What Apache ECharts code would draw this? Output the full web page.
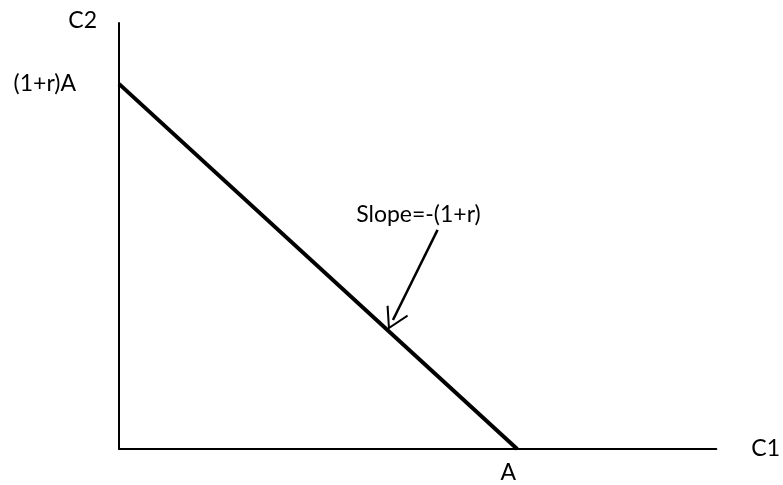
<!DOCTYPE html>
<html>
<head>
<meta charset="utf-8">
<script src="https://cdn.jsdelivr.net/npm/echarts@6/dist/echarts.min.js"></script>
<style>
  html, body { margin: 0; padding: 0; background: #fff; }
  #chart { width: 783px; height: 485px; }
</style>
</head>
<body>
<div id="chart"></div>
<script>
// budget line: (0, (1+r)A) -> (A, 0)
var budgetLine = [[0, 120], [100, 0]];
var xTicks = [100];           // A
var yTicks = [120];           // (1+r)A
var xTickText = ['A'];
var yTickText = ['(1+r)A'];
var axisNames = ['C1', 'C2'];
// annotation arrow, from text to the line
var arrowFrom = [80, 72];
var arrowTo = [68.8, 42.4];
var slopeText = 'Slope=-(1+r)';
var slopeTextAt = [75.2, 77];

window.onload = function() {
  drawChart();
};

function drawChart() {
  var myChart = echarts.init(document.getElementById('chart'));
  var font = 'Lato';
  var fs = 23;
  var option = {
    animation: false,
    grid: { left: 119, right: 62, top: 23, bottom: 36 },
    xAxis: {
      type: 'value',
      min: 0,
      max: 150,
      name: axisNames[0],
      nameLocation: 'end',
      nameGap: 35,
      nameTextStyle: { color: '#000', fontSize: fs, fontFamily: font },
      axisLine: { show: true, lineStyle: { color: '#000', width: 2 } },
      axisTick: { show: false },
      splitLine: { show: false },
      axisLabel: {
        customValues: xTicks,
        margin: 12,
        color: '#000',
        fontSize: fs,
        fontFamily: font,
        padding: [0, 18, 0, 0],
        formatter: function (v) { return xTickText[xTicks.indexOf(v)]; }
      }
    },
    yAxis: {
      type: 'value',
      min: 0,
      max: 140,
      name: axisNames[1],
      nameLocation: 'end',
      nameGap: 2,
      nameTextStyle: {
        color: '#000', fontSize: fs, fontFamily: font,
        align: 'right', verticalAlign: 'middle', padding: [0, 22, 0, 0]
      },
      axisLine: { show: true, lineStyle: { color: '#000', width: 2 } },
      axisTick: { show: false },
      splitLine: { show: false },
      axisLabel: {
        customValues: yTicks,
        margin: 43,
        color: '#000',
        fontSize: fs,
        fontFamily: font,
        formatter: function (v) { return yTickText[yTicks.indexOf(v)]; }
      }
    },
    series: [
      {
        type: 'line',
        data: budgetLine,
        symbol: 'none',
        lineStyle: { color: '#000', width: 4 },
        silent: true,
        markLine: {
          silent: true,
          symbol: ['none', 'path://M0,0 L-10,17 L-8.6,18 L0,3.2 L8.6,18 L10,17 Z'],
          symbolSize: [24, 22],
          label: { show: false },
          lineStyle: { color: '#000', width: 2.5, type: 'solid' },
          data: [[{ coord: arrowFrom }, { coord: arrowTo }]]
        },
        markPoint: {
          silent: true,
          symbol: 'circle',
          symbolSize: 0,
          label: {
            show: true,
            position: 'inside',
            color: '#000',
            fontSize: fs,
            fontFamily: font,
            formatter: slopeText
          },
          data: [{ coord: slopeTextAt }]
        }
      }
    ]
  };
  myChart.setOption(option);
}
</script>
</body>
</html>
